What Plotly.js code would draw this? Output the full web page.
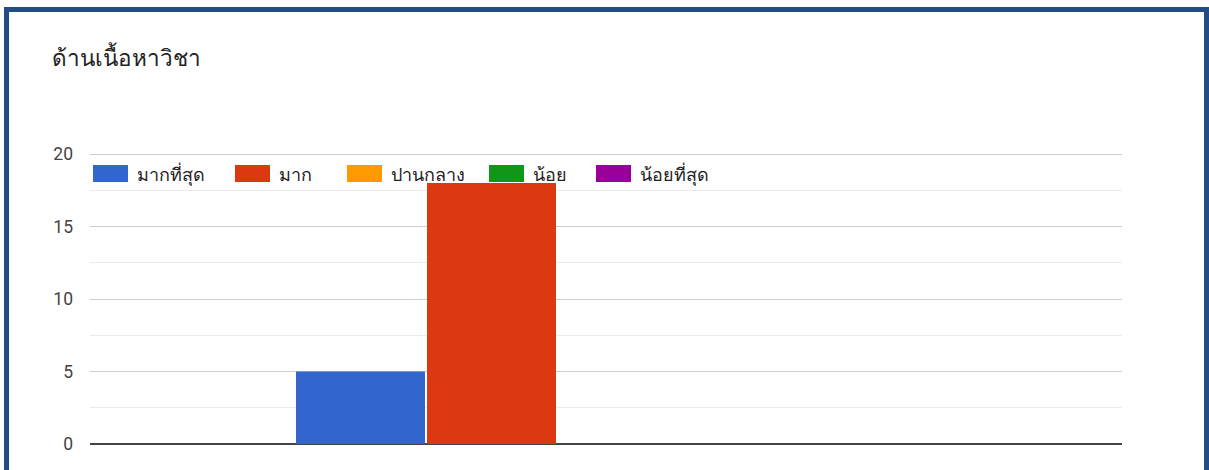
<!DOCTYPE html>
<html>
<head>
<meta charset="utf-8">
<script src="https://cdn.plot.ly/plotly-3.0.1.min.js"></script>
<style>
  html, body { margin: 0; padding: 0; background: #fff; overflow: hidden; }
  #chart { width: 1209px; height: 470px; }
  #frame {
    position: absolute; left: 4px; top: 7px; width: 1195px; height: 600px;
    border: 5px solid #234b84; border-bottom: none; pointer-events: none;
  }
</style>
</head>
<body>
<div id="chart"></div>
<div id="frame"></div>
<script>
// ---- data ----
const chartTitle = 'ด้านเนื้อหาวิชา';
const category = ['ด้านเนื้อหาวิชา'];
const seriesNames = ['มากที่สุด', 'มาก', 'ปานกลาง', 'น้อย', 'น้อยที่สุด'];
const seriesValues = [5, 18, 0, 0, 0];
const seriesColors = ['#3366cc', '#dc3912', '#ff9900', '#109618', '#990099'];
const yTickValues = [0, 5, 10, 15, 20];

// ---- layout constants (pixels) ----
const W = 1209, H = 470;
const M = { l: 90, r: 87, t: 154, b: 26 };
const plotW = W - M.l - M.r, plotH = H - M.t - M.b;
const px2x = p => (p - M.l) / plotW;
const px2y = p => (H - M.b - p) / plotH;

const FONT = 'Roboto, Arial, "Noto Sans", sans-serif';

const traces = seriesNames.map((name, i) => ({
  type: 'bar',
  name: name,
  x: category,
  y: [seriesValues[i]],
  marker: { color: seriesColors[i], line: { width: 0 } },
  hoverinfo: 'name+y'
}));

// custom legend (wide swatches like the original)
const legendX = [93, 235, 347, 489, 596];
const swW = 35, swTop = 165, swBot = 182;
const shapes = [];
const annotations = [];

// top gridline (at the range end Plotly skips it); half is clipped so use width 2
const yTop = yTickValues[yTickValues.length - 1];
shapes.push({
  type: 'line', xref: 'paper', yref: 'y', x0: 0, x1: 1,
  y0: yTop, y1: yTop,
  line: { color: '#cccccc', width: 2 }, layer: 'below'
});

seriesNames.forEach((name, i) => {
  shapes.push({
    type: 'rect', xref: 'paper', yref: 'paper',
    x0: px2x(legendX[i]), x1: px2x(legendX[i] + swW),
    y0: px2y(swBot), y1: px2y(swTop),
    fillcolor: seriesColors[i], line: { width: 0 }
  });
  annotations.push({
    xref: 'paper', yref: 'paper',
    x: px2x(legendX[i] + swW + 7), y: px2y((swTop + swBot) / 2 + 0.5),
    xanchor: 'left', yanchor: 'middle', showarrow: false,
    text: name, font: { family: FONT, size: 18, color: '#222' }
  });
});

// group position
const groupLeft = 295, groupW = 655;
const center = groupLeft + groupW / 2;
const xr = [-(center - M.l) / plotW, (M.l + plotW - center) / plotW];

const layout = {
  width: W, height: H,
  margin: M,
  paper_bgcolor: '#fff', plot_bgcolor: '#fff',
  title: {
    text: chartTitle, xref: 'container', yref: 'container',
    x: 52 / W, xanchor: 'left', y: 1 - 58 / H, yanchor: 'middle',
    font: { family: FONT, size: 22.5, color: '#222' }
  },
  showlegend: false,
  barmode: 'group',
  bargap: 1 - groupW / plotW,
  bargroupgap: 2 / (groupW / 5),
  xaxis: {
    type: 'category', range: xr, showticklabels: false, showgrid: false,
    zeroline: false, showline: false, ticks: '', fixedrange: true
  },
  yaxis: {
    range: [0, 20], tickvals: yTickValues, ticktext: yTickValues.map(String),
    showgrid: true, gridcolor: '#cccccc', gridwidth: 1,
    minor: { dtick: 2.5, showgrid: true, gridcolor: '#ebebeb', gridwidth: 1, ticks: '' },
    zeroline: true, zerolinecolor: '#444', zerolinewidth: 1.5,
    ticks: '', ticklabelstandoff: 16,
    tickfont: { family: FONT, size: 17.5, color: '#444' },
    fixedrange: true
  },
  shapes: shapes,
  annotations: annotations
};

Plotly.newPlot('chart', traces, layout, { displayModeBar: false, staticPlot: true });
</script>
</body>
</html>
